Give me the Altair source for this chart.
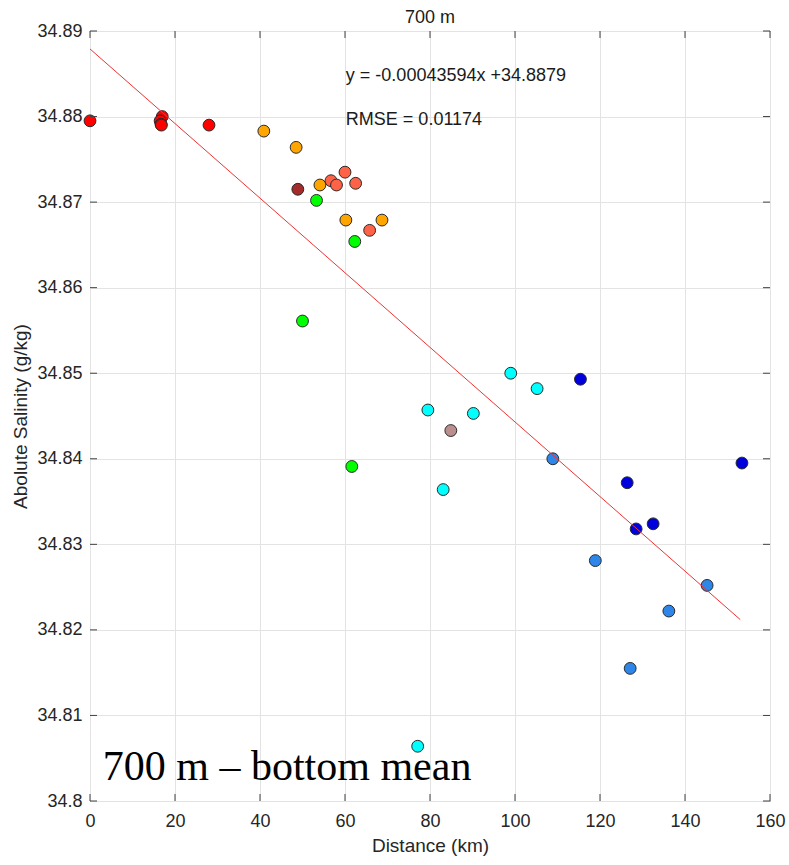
import altair as alt
import pandas as pd

# ---- data ----
dist = [0.0, 17.0, 16.5, 16.7, 16.8, 28.0,
        40.9, 48.5, 54.1, 60.2, 68.7,
        48.9,
        56.7, 58.0, 60.0, 62.5, 65.8,
        53.3, 62.3, 50.0, 61.6,
        79.5, 90.2, 99.0, 105.2, 83.1, 77.1,
        84.9,
        108.9, 118.9, 136.2, 145.2, 127.1,
        115.4, 126.4, 128.5, 132.5, 153.4]
sal = [34.8795, 34.8800, 34.8795, 34.8791, 34.8790, 34.8790,
       34.8783, 34.8764, 34.8720, 34.8679, 34.8679,
       34.8715,
       34.8725, 34.8720, 34.8735, 34.8722, 34.8667,
       34.8702, 34.8654, 34.8561, 34.8391,
       34.8457, 34.8453, 34.8500, 34.8482, 34.8364, 34.8064,
       34.8433,
       34.8400, 34.8281, 34.8222, 34.8252, 34.8155,
       34.8493, 34.8372, 34.8318, 34.8324, 34.8395]
group = ["red"] * 6 + ["orange"] * 5 + ["darkred"] + ["tomato"] * 5 + \
        ["lime"] * 4 + ["cyan"] * 6 + ["rosy"] + ["dodger"] * 5 + ["blue"] * 5

group_names = ["red", "orange", "darkred", "tomato", "lime", "cyan", "rosy", "dodger", "blue"]
group_colors = ["#FF0000", "#FFA500", "#A52A2A", "#FF6347", "#00FF00",
                "#00FFFF", "#BC8F8F", "#2E86E8", "#0000DD"]

slope = -0.00043594
intercept = 34.8879
line_x = [0.0, 153.0]

x_ticks = [0, 20, 40, 60, 80, 100, 120, 140, 160]
y_ticks = [34.8, 34.81, 34.82, 34.83, 34.84, 34.85, 34.86, 34.87, 34.88, 34.89]

title_text = ["700 m"]

ann_text = ["y = -0.00043594x +34.8879", "RMSE = 0.01174"]
ann_x = [60.2, 60.2]
ann_y = [34.8841, 34.8790]

label_text = ["700 m \u2013 bottom mean"]
label_x = [3.0]
label_y = [34.8024]

# ---- tables ----
pts = pd.DataFrame({"d": dist, "s": sal, "g": group})
fit = pd.DataFrame({"d": line_x, "s": [slope * v + intercept for v in line_x]})
ann = pd.DataFrame({"d": ann_x, "s": ann_y, "t": ann_text})
lab = pd.DataFrame({"d": label_x, "s": label_y, "t": label_text})
ttl = pd.DataFrame({"t": title_text})
xt = pd.DataFrame({"d": x_ticks})
yt = pd.DataFrame({"s": y_ticks})

W, H = 680, 770
xs = alt.Scale(domain=[0, 160], nice=False, zero=False)
ys = alt.Scale(domain=[34.8, 34.89], nice=False, zero=False)

xaxis = alt.Axis(values=x_ticks, title="Distance (km)", grid=True, tickSize=0,
                 labelPadding=11, titlePadding=6, format="d", labelFlush=False)
yaxis = alt.Axis(values=y_ticks, title="Abolute Salinity (g/kg)", grid=True, tickSize=0,
                 labelPadding=8, titlePadding=6, format=".2~f", labelFlush=False)

base = alt.Chart(pts)

points = base.mark_point(filled=True, size=140, stroke="#2a2a2a", strokeWidth=1,
                         opacity=1, fillOpacity=1).encode(
    x=alt.X("d:Q", scale=xs, axis=xaxis),
    y=alt.Y("s:Q", scale=ys, axis=yaxis),
    fill=alt.Fill("g:N", scale=alt.Scale(domain=group_names, range=group_colors), legend=None),
)

line = alt.Chart(fit).mark_line(color="#EE3333", strokeWidth=1).encode(
    x=alt.X("d:Q", scale=xs), y=alt.Y("s:Q", scale=ys))

ann_layer = alt.Chart(ann).mark_text(align="left", baseline="alphabetic", fontSize=18,
                                     font="Liberation Sans", color="#1a1a1a").encode(
    x=alt.X("d:Q", scale=xs), y=alt.Y("s:Q", scale=ys), text="t:N")

lab_layer = alt.Chart(lab).mark_text(align="left", baseline="alphabetic", fontSize=42,
                                     font="Liberation Serif", color="#000000").encode(
    x=alt.X("d:Q", scale=xs), y=alt.Y("s:Q", scale=ys), text="t:N")

title_layer = alt.Chart(ttl).mark_text(align="center", baseline="alphabetic", fontSize=18,
                                       font="Liberation Sans", color="#1a1a1a").encode(
    x=alt.value(W / 2), y=alt.value(-8.5), text="t:N")

tick_col = "#404040"
xt_top = alt.Chart(xt).mark_rule(color=tick_col, strokeWidth=1).encode(
    x=alt.X("d:Q", scale=xs), y=alt.value(0), y2=alt.value(7))
xt_bot = alt.Chart(xt).mark_rule(color=tick_col, strokeWidth=1).encode(
    x=alt.X("d:Q", scale=xs), y=alt.value(H), y2=alt.value(H - 7))
yt_left = alt.Chart(yt).mark_rule(color=tick_col, strokeWidth=1).encode(
    y=alt.Y("s:Q", scale=ys), x=alt.value(0), x2=alt.value(7))
yt_right = alt.Chart(yt).mark_rule(color=tick_col, strokeWidth=1).encode(
    y=alt.Y("s:Q", scale=ys), x=alt.value(W), x2=alt.value(W - 7))

chart = alt.layer(points, line, ann_layer, lab_layer, title_layer,
                  xt_top, xt_bot, yt_left, yt_right).properties(
    width=W, height=H,
    background="white",
    autosize=alt.AutoSizeParams(type="none"),
    padding={"left": 90, "top": 31, "right": 19, "bottom": 64},
).configure_view(
    stroke="#404040", strokeWidth=1
).configure_axis(
    labelFont="Liberation Sans", titleFont="Liberation Sans",
    labelFontSize=18, titleFontSize=19, titleFontWeight="normal",
    labelColor="#262626", titleColor="#262626",
    gridColor="#e3e3e3", gridWidth=1, domain=False,
)

chart.save("out.html", embed_options={"renderer": "svg", "actions": False})
